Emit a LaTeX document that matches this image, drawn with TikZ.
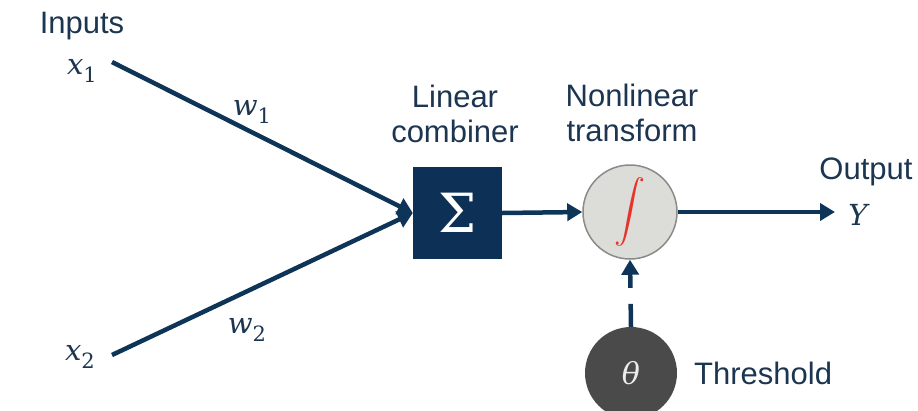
\RequirePackage{fix-cm}
\documentclass[tikz,border=0pt]{standalone}
\usepackage{graphicx}
\usepackage{fontspec}
\setmainfont{Liberation Sans}
\newfontfamily\varfont{DejaVu Serif}
\newcommand\varsym[2]{{\varfont\itshape #1}\raisebox{-0.3em}{\varfont\fontsize{21}{22}\selectfont #2}}
\usetikzlibrary{arrows.meta}
\definecolor{navy}{HTML}{0E3457}
\definecolor{labelblue}{HTML}{1C3550}
\definecolor{sumfill}{HTML}{0D3156}
\definecolor{actfill}{HTML}{DCDCD8}
\definecolor{actedge}{HTML}{8A8A86}
\definecolor{thrfill}{HTML}{4A4A4A}
\definecolor{intred}{HTML}{E8332A}
\begin{document}
\begin{tikzpicture}[x=1pt,y=-1pt,
  lbl/.style={text=labelblue,font=\fontsize{31}{35}\selectfont,inner sep=0pt,align=center},
  mth/.style={text=labelblue,font=\fontsize{29}{32}\selectfont,inner sep=0pt},
  wire/.style={draw=navy,line width=4.5pt},
  arr/.style={wire,-{Triangle[length=15pt,width=17pt]}},
  sumbox/.style={fill=sumfill,minimum width=89pt,minimum height=92pt,inner sep=0pt,text=white,font=\varfont\fontsize{54}{58}\selectfont},
  actnode/.style={circle,fill=actfill,draw=actedge,line width=1.5pt,minimum size=94pt,inner sep=0pt},
  thrnode/.style={circle,fill=thrfill,minimum size=92pt,inner sep=0pt,text=white!85!gray,font=\varfont\itshape\fontsize{30}{32}\selectfont}]
\useasboundingbox (0,0) rectangle (918,410);

% labels
\node[lbl] (inputs) at (82,26) {Inputs};
\node[mth] (x1) at (82,71) {\varsym{x}{1}};
\node[mth] (x2) at (80,357) {\varsym{x}{2}};
\node[mth] (w1) at (252,112) {\varsym{w}{1}};
\node[mth] (w2) at (247,330) {\varsym{w}{2}};
\node[lbl] (lin) at (455,114) {Linear\\combiner};
\node[lbl] (nonlin) at (632,113) {Nonlinear\\transform};
\node[lbl] (outlbl) at (866,172) {Output};
\node[mth] (y) at (858,215) {\varfont\itshape Y};
\node[lbl,anchor=west] (thrlbl) at (694,373) {Threshold};

% processing nodes
\node[sumbox] (sum) at (457.5,213) {Σ};
\node[actnode] (act) at (630,212) {\textcolor{intred}{\scalebox{3.1}{$\displaystyle\int$}}};
\node[thrnode] (thr) at (631,373) {θ};

% input wires
\coordinate (x1e) at (112,62);
\coordinate (x2e) at (112,355);
\draw[arr] (x1e) -- (sum.west);
\draw[arr] (x2e) -- (sum.west);

% forward path
\draw[arr] (sum.east) -- (act.west);
\coordinate (yend) at (835,212);
\draw[arr] (act.east) -- (yend);

% threshold feed
\draw[arr,dash pattern=on 23pt off 16pt on 40pt] (thr.north) -- (act.south);
\end{tikzpicture}
\end{document}
